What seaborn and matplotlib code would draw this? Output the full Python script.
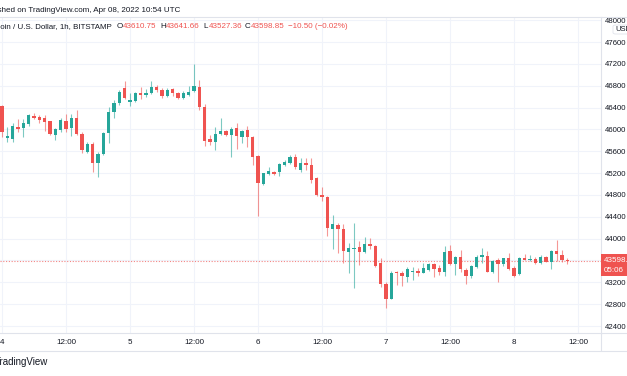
import numpy as np
import pandas as pd
import seaborn as sns
import matplotlib.pyplot as plt
from matplotlib.patches import Rectangle, FancyBboxPatch
from matplotlib.lines import Line2D

# hourly BTC/USD candles, Apr 4 00:00 -> Apr 8 10:00
opens = [46428, 45842, 45818, 46038, 46031, 46093, 46245, 46232, 46203, 46154,
         45897, 45989, 46159, 46020, 46203, 45910, 45580, 45727, 45379, 45544,
         45939, 46324, 46489, 46752, 46507, 46525, 46672, 46624, 46672, 46770,
         46721, 46611, 46734, 46672, 46584, 46633, 46708, 46770, 46415, 45818,
         45769, 45910, 45970, 45897, 46031, 45861, 45989, 45861, 45513, 45000,
         45178, 45225, 45225, 45348, 45379, 45500, 45256, 45390, 45348, 45104,
         44799, 44756, 44176, 44249, 44171, 43746, 43804, 43852, 43760, 43896,
         43865, 43548, 43169, 42894, 43394, 43365, 43303, 43394, 43413, 43376,
         43425, 43530, 43457, 43394, 43773, 43535, 43669, 43425, 43321, 43486,
         43658, 43687, 43383, 43609, 43530, 43651, 43457, 43347, 43651, 43603,
         43621, 43548, 43669, 43566, 43773, 43700, 43610.75]
highs = [46446, 46049, 46111, 46185, 46185, 46276, 46305, 46263, 46263, 46160,
         46031, 46203, 46276, 46276, 46355, 45958, 45774, 45774, 45591, 45958,
         46415, 46538, 46721, 46895, 46661, 46684, 46776, 46739, 46891, 46813,
         46758, 46758, 46758, 46684, 46703, 46794, 47206, 46904, 46465, 45897,
         46044, 46203, 45989, 46049, 46111, 45989, 46062, 45879, 45531, 45207,
         45317, 45244, 45390, 45439, 45531, 45544, 45470, 45470, 45470, 45123,
         44951, 44780, 44432, 44286, 44268, 43925, 44280, 43962, 44024, 44006,
         43883, 43640, 43211, 43413, 43413, 43413, 43486, 43486, 43457, 43548,
         43548, 43548, 43517, 43865, 43883, 43682, 43792, 43467, 43517, 43700,
         43834, 43773, 43609, 43640, 43651, 43731, 43504, 43669, 43713, 43700,
         43669, 43700, 43687, 43792, 43975, 43792, 43641.66]
lows = [45866, 45774, 45774, 45958, 45855, 46062, 46185, 46111, 45976, 45897,
        45806, 45958, 45958, 45879, 45897, 45562, 45562, 45225, 45134, 45531,
        45751, 46203, 46447, 46556, 46428, 46501, 46556, 46593, 46648, 46684,
        46575, 46593, 46611, 46556, 46556, 46611, 46684, 46355, 45696, 45714,
        45623, 45897, 45870, 45494, 45632, 45756, 45683, 45348, 44414, 44982,
        45165, 45165, 45146, 45330, 45366, 45269, 45225, 45256, 45013, 44780,
        44694, 44048, 43804, 43731, 43553, 43376, 43090, 43517, 43731, 43804,
        43486, 43109, 42724, 42889, 43151, 43132, 43211, 43242, 43315, 43365,
        43413, 43303, 43334, 43315, 43517, 43334, 43389, 43164, 43273, 43467,
        43548, 43383, 43365, 43211, 43504, 43425, 43303, 43334, 43609, 43590,
        43530, 43530, 43566, 43444, 43590, 43566, 43527.36]
closes = [45958, 45879, 46067, 46001, 46111, 46258, 46208, 46172, 46130, 45915,
          46001, 46172, 46001, 46203, 45910, 45623, 45727, 45379, 45544, 45939,
          46324, 46489, 46690, 46584, 46538, 46661, 46633, 46672, 46782, 46721,
          46611, 46721, 46661, 46566, 46672, 46690, 46794, 46415, 45787, 45774,
          45910, 45970, 45897, 46001, 45879, 45970, 45861, 45489, 45024, 45196,
          45238, 45183, 45366, 45403, 45500, 45306, 45390, 45342, 45073, 44799,
          44756, 44189, 44262, 44171, 43773, 43823, 43823, 43760, 43896, 43865,
          43504, 43169, 42894, 43376, 43365, 43321, 43444, 43413, 43376, 43457,
          43530, 43444, 43394, 43760, 43535, 43658, 43453, 43321, 43498, 43669,
          43700, 43394, 43590, 43530, 43640, 43444, 43321, 43640, 43614, 43627,
          43548, 43669, 43577, 43773, 43713, 43609.35, 43598.85]

tick_hours = [0, 12, 24, 36, 48, 60, 72, 84, 96, 108]
tick_labels = ["4", "12:00", "5", "12:00", "6", "12:00", "7", "12:00", "8", "12:00"]
price_ticks = [42400, 42800, 43200, 43600, 44000, 44400, 44800, 45200, 45600,
               46000, 46400, 46800, 47200, 47600, 48000]

df = pd.DataFrame({"open": opens, "high": highs, "low": lows, "close": closes})
df["hour"] = np.arange(len(df))
df["up"] = df["close"] >= df["open"]

GREEN = "#26a69a"
RED = "#ef5350"
GRID = "#f0f3fa"
LINE = "#e0e3eb"
TXT = "#131722"

sns.set_theme(style="white")
plt.rcParams["font.family"] = ["Liberation Sans", "DejaVu Sans"]

W, H = 627, 376
fig = plt.figure(figsize=(W / 100, H / 100), dpi=100)
fig.patch.set_facecolor("white")


def fx(px):
    return px / W


def fy(py):
    return 1 - py / H


ax = fig.add_axes([0, fy(333), fx(601), (333 - 17) / H])

colors = np.where(df["up"], GREEN, RED)
ax.vlines(df["hour"], df["low"], df["high"], colors=colors, linewidth=0.8, alpha=0.6, zorder=2)
body_lo = np.minimum(df["open"], df["close"])
body_h = np.maximum((df["close"] - df["open"]).abs(), 15)
ax.bar(df["hour"], body_h, bottom=body_lo, width=0.64, color=colors, linewidth=0, zorder=3)

last = closes[-1]
ax.axhline(last, color=RED, ls=(0, (1, 1.5)), lw=0.8, alpha=0.7, zorder=1)

ax.set_xlim(-0.375, 112.3)
ax.set_ylim(42272, 48058)
ax.set_xticks(tick_hours)
ax.set_xticklabels(tick_labels)
ax.set_yticks(price_ticks)
# the tick next to the last price sits under the price badge
ax.set_yticklabels(["" if abs(p - last) < 200 else str(p) for p in price_ticks])
ax.yaxis.tick_right()
ax.grid(True, color=GRID, lw=0.8, zorder=0)
ax.tick_params(axis="y", length=0, pad=3, labelsize=5.6, colors=TXT)
ax.tick_params(axis="x", length=0, pad=4, labelsize=5.8, colors=TXT)
ax.spines["left"].set_visible(False)
for side in ["top", "bottom", "right"]:
    ax.spines[side].set_color(LINE)
    ax.spines[side].set_linewidth(0.8)

# frame lines outside the plot pane
fig.add_artist(Line2D([fx(601), 1], [fy(17), fy(17)], color=LINE, lw=0.8))
fig.add_artist(Line2D([fx(601), 1], [fy(333), fy(333)], color=LINE, lw=0.8))
fig.add_artist(Line2D([0, 1], [fy(351), fy(351)], color=LINE, lw=0.8))
fig.add_artist(Line2D([fx(601), fx(601)], [fy(351), fy(333)], color=LINE, lw=0.8))

# USD badge
fig.add_artist(FancyBboxPatch((fx(613), fy(34)), fx(20), 9 / H,
                              boxstyle="round,pad=0,rounding_size=0.004",
                              transform=fig.transFigure, facecolor="white",
                              edgecolor=LINE, lw=0.6, zorder=5))
fig.text(fx(615), fy(29.5), "USD", fontsize=5.5, color=TXT, va="center", zorder=6)

# last price badge
fig.add_artist(Rectangle((fx(601), fy(276)), fx(30), 22 / H, transform=fig.transFigure,
                         facecolor=RED, edgecolor="none", zorder=5))
fig.text(fx(604), fy(260.5), f"{last:.2f}", fontsize=5.8, color="white", va="center", zorder=6)
fig.text(fx(604), fy(270.5), "05:06", fontsize=5.8, color="white", va="center", zorder=6)

# header
fig.text(fx(180), fy(10), "Published on TradingView.com, Apr 08, 2022 10:54 UTC",
         ha="right", va="center", fontsize=5.8, color=TXT)
fig.text(fx(112), fy(27), "Bitcoin / U.S. Dollar, 1h, BITSTAMP",
         ha="right", va="center", fontsize=5.7, color=TXT)
ohlc = [("O", 117, opens[-1]), ("H", 160, highs[-1]), ("L", 203, lows[-1]), ("C", 245, closes[-1])]
for letter, xp, val in ohlc:
    fig.text(fx(xp), fy(27), letter, va="center", fontsize=5.8, color=TXT)
    fig.text(fx(xp + 5.5), fy(27), f"{val:.2f}", va="center", fontsize=5.8, color=RED)
chg = closes[-1] - closes[-2]
fig.text(fx(288), fy(27), f"\u2212{abs(chg):.2f} (\u2212{abs(chg) / closes[-2] * 100:.2f}%)",
         va="center", fontsize=5.8, color=RED)

fig.text(fx(48), fy(362), "TradingView", ha="right", va="center", fontsize=7, color=TXT)

fig.savefig("out.png", dpi=100)
